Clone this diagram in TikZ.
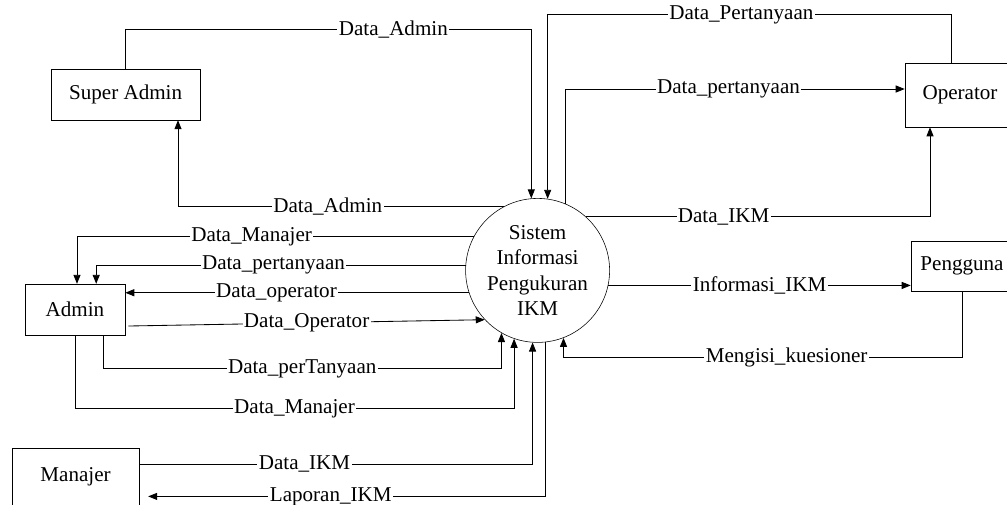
\documentclass[tikz,border=0pt]{standalone}
\usepackage{fontspec}
\setmainfont{Liberation Serif}
\usepackage{tikz}
\usetikzlibrary{shapes}
\usetikzlibrary{arrows.meta}
\usetikzlibrary{positioning}
\usetikzlibrary{calc}
\tikzstyle{entitas}=[
        draw,
        rectangle,
        fill=white,
        inner sep=0pt,
        font=\fontsize{15}{18}\selectfont
]
\tikzstyle{proses}=[circle,draw,fill=white,minimum size=3.6cm,inner sep=0pt,
align=center,font=\fontsize{15}{18}\selectfont]
\tikzstyle{ket}=[fill=white,inner sep=1pt,font=\fontsize{15}{18}\selectfont]
\tikzstyle{alir}=[-{Triangle[length=6.4pt,width=5pt]},line width=0.6pt]

\begin{document}
\begin{tikzpicture}
\useasboundingbox (0,0) rectangle (25.175,-12.6);
\clip (0,0) rectangle (25.175,-12.6);
\node[proses] (sis) at (13.44,-6.76) {Sistem\\Informasi\\Pengukuran\\IKM};
\node[entitas,minimum width=3.725cm,minimum height=1.275cm] (sadmin) at (3.14,-2.36) {Super Admin};
\node[entitas,minimum width=2.75cm,minimum height=1.6cm] (op) at (24.0,-2.375) {Operator};
\node[entitas,minimum width=2.55cm,minimum height=1.25cm] (pen) at (24.05,-6.65) {Pengguna};
\node[entitas,minimum width=2.5cm,minimum height=1.275cm] (adm) at (1.875,-7.74) {Admin};
\node[entitas,minimum width=3.175cm,minimum height=1.45cm] (man) at (1.89,-11.93) {Manajer};
%alir data atas
\draw[alir] (sadmin.north) -- ++(0,0.975) -| node[ket,pos=0.33]{Data\_Admin} (sis.95);
\draw[alir] (sis.118) -| node[ket,pos=0.27]{Data\_Admin} ([xshift=1.31cm]sadmin.south);
\draw[alir] ([xshift=-0.22cm]op.north) -- ++(0,1.2) -| node[ket,pos=0.26]{Data\_Pertanyaan} (sis.82);
\draw[alir] (sis.67) |- node[ket,pos=0.74]{Data\_pertanyaan} ([yshift=0.15cm]op.west);
\draw[alir] (sis.48) -| node[ket,pos=0.2]{Data\_IKM} ([xshift=-0.75cm]op.south);
%alir data kanan
\draw[alir] (sis.-12) -- node[ket]{Informasi\_IKM} (sis.-12 -| pen.west);
\draw[alir] (pen.south) -- ++(0,-1.65) -| node[ket,pos=0.22]{Mengisi\_kuesioner} (sis.-69);
%alir data admin
\draw[alir] (sis.152) -| node[ket,pos=0.28]{Data\_Manajer} ([xshift=0.05cm]adm.north);
\draw[alir] (sis.176) -| node[ket,pos=0.26]{Data\_pertanyaan} ([xshift=0.53cm]adm.north);
\draw[alir] (sis.198) -- node[ket,pos=0.56]{Data\_operator} (sis.198 -| adm.east);
\draw[alir] ([xshift=0.08cm,yshift=-0.41cm]adm.east) -- node[ket]{Data\_Operator} (sis.-137);
\draw[alir] ([xshift=0.7cm]adm.south) -- ++(0,-0.83) -| node[ket,pos=0.25]{Data\_perTanyaan} (sis.-120);
\draw[alir] (adm.south) -- ++(0,-1.83) -| node[ket,pos=0.25]{Data\_Manajer} (sis.-109);
%alir data manajer
\draw[alir] ([yshift=0.33cm]man.east) -| node[ket,pos=0.21]{Data\_IKM} (sis.-94);
\draw[alir] (sis.-84) |- node[ket,pos=0.77]{Laporan\_IKM} ([xshift=0.22cm,yshift=-0.48cm]man.east);
\end{tikzpicture}
\end{document}
